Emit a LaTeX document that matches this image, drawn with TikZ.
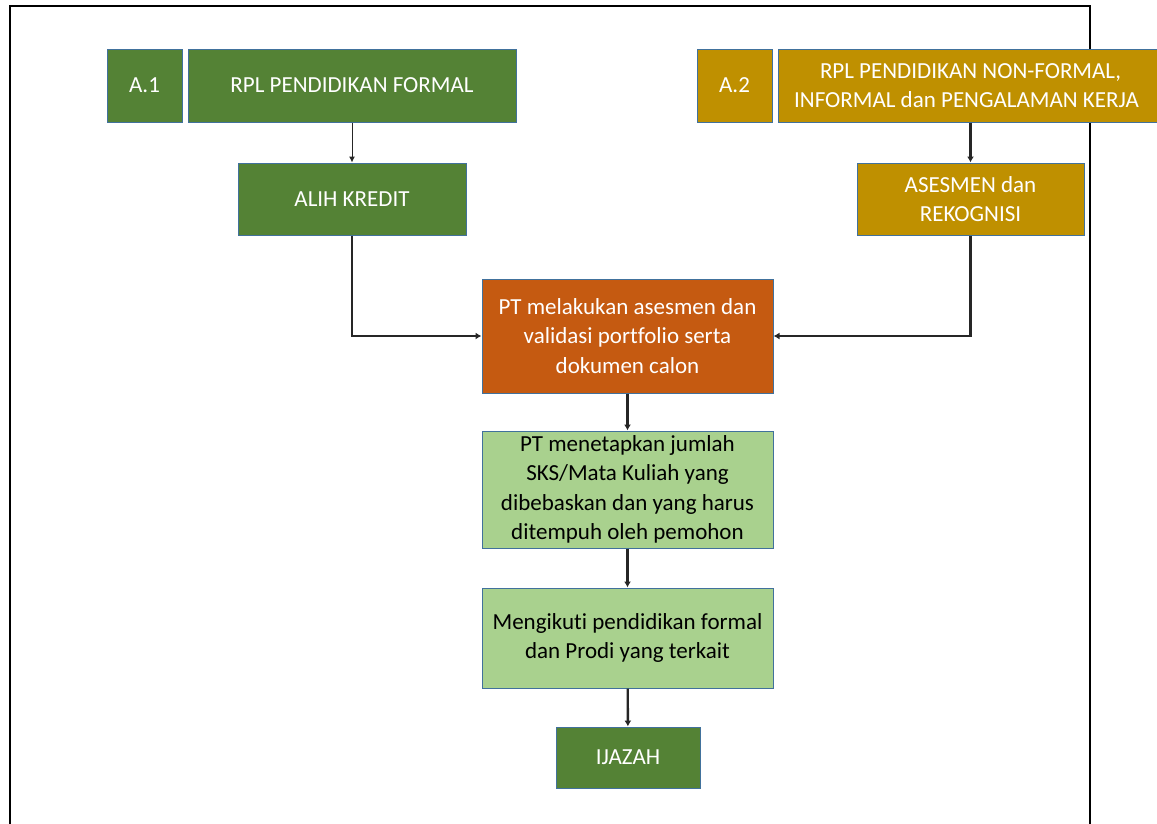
\documentclass[tikz,border=0pt]{standalone}
\usepackage{fontspec}
\setmainfont{Carlito}[Ligatures=NoCommon]
\usetikzlibrary{arrows.meta}
\definecolor{hijautua}{HTML}{548235}
\definecolor{hijaumuda}{HTML}{A9D18E}
\definecolor{emas}{HTML}{BF9000}
\definecolor{oranye}{HTML}{C55A11}
\definecolor{garisbiru}{HTML}{41719C}
\begin{document}
\begin{tikzpicture}[x=1pt,y=-1pt,
    kotak/.style={draw=garisbiru, line width=1pt, align=center, inner sep=0pt,
      font=\fontsize{23}{29.5}\selectfont},
    kotakhijau/.style={kotak, fill=hijautua, text=white},
    kotakemas/.style={kotak, fill=emas, text=white},
    kotakoranye/.style={kotak, fill=oranye, text=white},
    kotakmuda/.style={kotak, fill=hijaumuda, text=black},
    panah/.style={draw=black!85, line width=2.4pt, -{Latex[length=6pt,width=7pt]}},
    panahtipis/.style={draw=black!85, line width=1pt, -{Latex[length=6pt,width=6pt]}}]
        \useasboundingbox (0,0) rectangle (1157,823);
        \draw[line width=1.4pt] (10,6) rectangle (1090,850);

        % jalur A.1
        \node[kotakhijau, minimum width=75pt, minimum height=73pt] (a1) at (144.5,85.5) {A.1};
        \node[kotakhijau, minimum width=328pt, minimum height=73pt] (formal) at (352,85.5) {RPL PENDIDIKAN FORMAL};
        \node[kotakhijau, minimum width=228pt, minimum height=72pt] (alih) at (352,199) {ALIH KREDIT};

        % jalur A.2
        \node[kotakemas, minimum width=75pt, minimum height=73pt] (a2) at (734.5,85.5) {A.2};
        \node[kotakemas, minimum width=385pt, minimum height=73pt] (nonformal) at (970.5,85.5) {RPL PENDIDIKAN NON-FORMAL,\\INFORMAL dan PENGALAMAN KERJA\hspace*{8pt}};
        \node[kotakemas, minimum width=227pt, minimum height=72pt] (rekognisi) at (970.5,199) {ASESMEN dan\\REKOGNISI};

        % alur tengah
        \node[kotakoranye, minimum width=291pt, minimum height=114pt] (asesmen) at (627.5,336) {PT melakukan asesmen dan\\validasi portfolio serta\\dokumen calon};
        \node[kotakmuda, minimum width=291pt, minimum height=117pt] (tetapkan) at (627.5,489.5) {PT menetapkan jumlah\\SKS/Mata Kuliah yang\\dibebaskan dan yang harus\\ditempuh oleh pemohon};
        \node[kotakmuda, minimum width=291pt, minimum height=100pt] (ikuti) at (627.5,638) {Mengikuti pendidikan formal\\dan Prodi yang terkait};
        \node[kotakhijau, minimum width=144pt, minimum height=61pt] (ijazah) at (628,757.5) {IJAZAH};

        \draw[panahtipis] (formal) -- (alih);
        \draw[panah] (rekognisi.north |- nonformal.south) -- (rekognisi);
        \draw[panah] (alih.south) |- (asesmen.west);
        \draw[panah] (rekognisi.south) |- (asesmen.east);
        \draw[panah] (asesmen) -- (tetapkan);
        \draw[panah] (tetapkan) -- (ikuti);
        \draw[panah] (ikuti) -- (ijazah);
\end{tikzpicture}
\end{document}
